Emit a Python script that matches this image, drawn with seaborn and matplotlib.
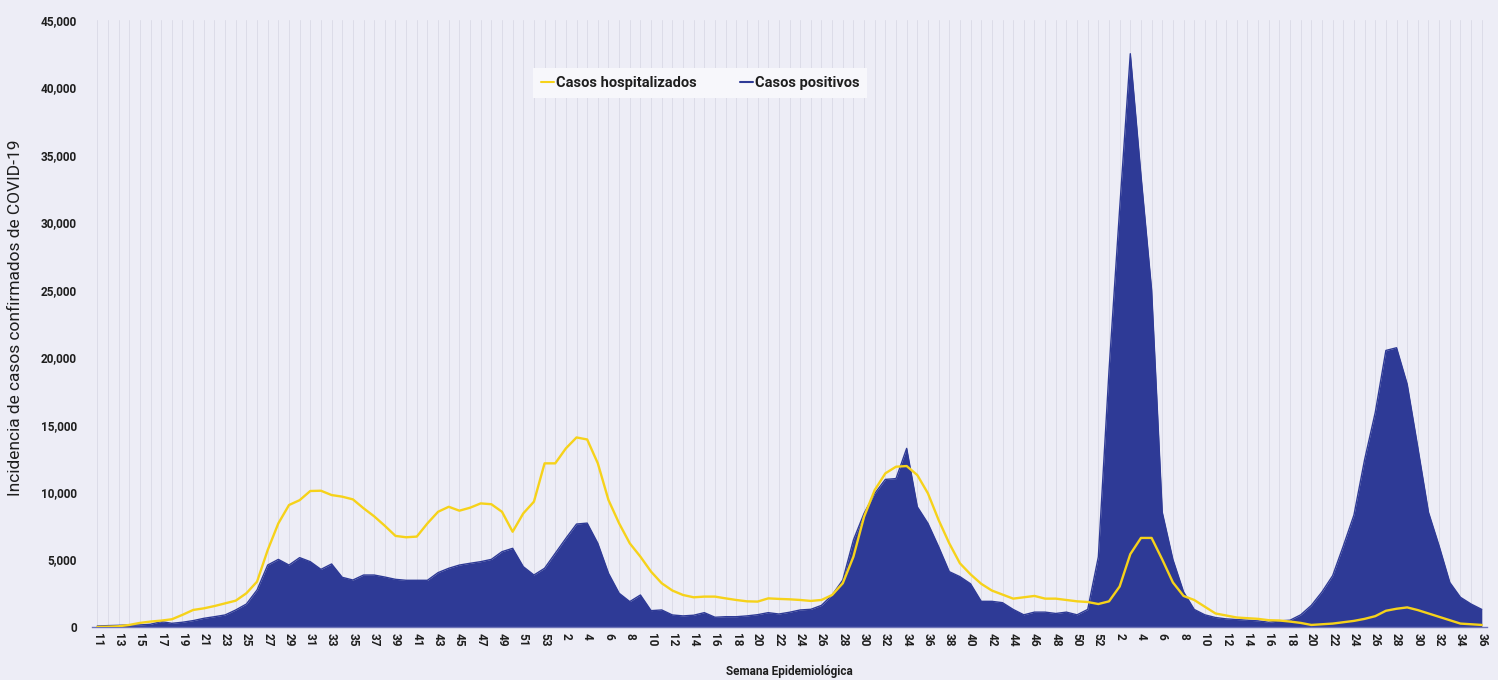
import numpy as np
import pandas as pd
import matplotlib
matplotlib.use("Agg")
import matplotlib.pyplot as plt
import seaborn as sns
from matplotlib.ticker import FuncFormatter

# ---------------- data ----------------
weeks_2020 = list(range(11, 54))
weeks_2021 = list(range(1, 53))
weeks_2022 = list(range(1, 37))
week_labels = [str(w) for w in weeks_2020 + weeks_2021 + weeks_2022]

positivos_2020 = [70, 100, 120, 150, 150, 200, 400, 270, 350, 470, 640, 760, 890, 1260, 1700,
                  2740, 4590, 5010, 4590, 5140, 4840, 4270, 4670, 3680, 3480, 3850, 3850, 3700,
                  3530, 3460, 3460, 3460, 4030, 4350, 4590, 4720, 4840, 5010, 5580, 5830, 4470,
                  3850, 4350]
positivos_2021 = [5460, 6570, 7630, 7700, 6200, 3980, 2500, 1880, 2370, 1210, 1260, 890, 820,
                  870, 1060, 720, 760, 760, 820, 910, 1060, 960, 1090, 1260, 1310, 1600, 2370,
                  3480, 6450, 8420, 9900, 10940, 11000, 13240, 8910, 7680, 5950, 4100, 3730,
                  3200, 1900, 1900, 1800, 1300, 900, 1100, 1100, 1000, 1100, 900, 1300, 5200]
positivos_2022 = [19000, 31000, 42500, 33500, 25000, 8500, 5000, 2600, 1300, 900, 700, 600,
                  550, 500, 450, 350, 450, 500, 900, 1600, 2600, 3800, 6000, 8300, 12400, 15900,
                  20500, 20700, 18000, 13300, 8500, 6000, 3300, 2200, 1700, 1300]

hosp_2020 = [0, 20, 50, 150, 300, 400, 470, 570, 900, 1260, 1380, 1550, 1750, 1950, 2500,
             3360, 5700, 7680, 9040, 9400, 10080, 10100, 9780, 9660, 9460, 8800, 8200, 7500,
             6750, 6650, 6700, 7680, 8540, 8910, 8620, 8840, 9160, 9100, 8540, 7060, 8420,
             9290, 12130]
hosp_2021 = [12130, 13240, 14050, 13900, 12130, 9410, 7680, 6200, 5210, 4100, 3240, 2700,
             2370, 2200, 2250, 2250, 2120, 2000, 1900, 1880, 2120, 2080, 2050, 2000, 1930,
             2000, 2370, 3240, 5210, 8170, 10150, 11390, 11880, 11930, 11260, 9900, 7930,
             6200, 4720, 3900, 3200, 2700, 2400, 2100, 2200, 2300, 2100, 2100, 2000, 1900,
             1850, 1700]
hosp_2022 = [1900, 3000, 5400, 6600, 6600, 5000, 3300, 2300, 2000, 1500, 1000, 850, 700, 650,
             600, 500, 480, 400, 300, 150, 200, 250, 350, 450, 600, 800, 1200, 1350, 1450,
             1250, 1000, 750, 500, 250, 200, 150]

positivos = positivos_2020 + positivos_2021 + positivos_2022
hospitalizados = hosp_2020 + hosp_2021 + hosp_2022

df = pd.DataFrame({
    "idx": np.arange(len(week_labels)),
    "semana": week_labels,
    "positivos": positivos,
    "hospitalizados": hospitalizados,
})

# ---------------- style ----------------
BG = "#EDEDF6"
BLUE = "#2E3A96"
YELLOW = "#F6D21A"
TXT = "#1E1E1E"

sns.set_theme(style="white")
plt.rcParams["font.family"] = ["Roboto", "DejaVu Sans"]

fig = plt.figure(figsize=(14.98, 6.80), dpi=100, facecolor=BG)
ax = fig.add_axes([0.0614, 0.078, 0.9313, 0.8926])
ax.set_facecolor(BG)

# weekly vertical grid
for i in df["idx"]:
    ax.axvline(i, color="#DCDCE8", lw=0.7, zorder=0)

ax.fill_between(df["idx"], 0, df["positivos"], color=BLUE, lw=0, zorder=2)
sns.lineplot(data=df, x="idx", y="positivos", color=BLUE, lw=1.0, ax=ax, zorder=3,
             label="Casos positivos", legend=False)
sns.lineplot(data=df, x="idx", y="hospitalizados", color=YELLOW, lw=1.7, ax=ax, zorder=4,
             label="Casos hospitalizados", legend=False)

ax.set_xlim(-0.5, len(week_labels) - 0.5)
ax.set_ylim(0, 45000)
ax.set_yticks(np.arange(0, 45001, 5000))
ax.yaxis.set_major_formatter(FuncFormatter(lambda v, p: f"{int(v):,}"))

tick_pos = df["idx"][::2]
ax.set_xticks(tick_pos)
ax.set_xticklabels(df["semana"][::2], rotation=-90, fontsize=8.5, fontweight="bold", color=TXT)
for lab in ax.get_yticklabels():
    lab.set_fontsize(8.5)
    lab.set_fontweight("bold")
    lab.set_color(TXT)
ax.tick_params(axis="x", length=0, pad=4)
ax.tick_params(axis="y", length=0, pad=11)

for s in ["top", "right", "left"]:
    ax.spines[s].set_visible(False)
ax.spines["bottom"].set_color("#6E74B8")
ax.spines["bottom"].set_linewidth(1.0)

ax.set_xlabel("Semana Epidemiológica", fontsize=8.5, fontweight="bold", color=TXT)
ax.xaxis.set_label_coords(0.5, -0.074)
ax.xaxis.label.set_verticalalignment("center")
ax.set_ylabel("Incidencia de casos confirmados de COVID-19", fontsize=12.5, color=TXT)
ax.yaxis.set_label_coords(-0.055, 0.51)
ax.yaxis.label.set_verticalalignment("center")

handles, labels = ax.get_legend_handles_labels()
order = [labels.index("Casos hospitalizados"), labels.index("Casos positivos")]
leg = ax.legend([handles[i] for i in order], [labels[i] for i in order],
                loc="center", bbox_to_anchor=(0.436, 0.896), ncol=2, frameon=True,
                fancybox=False, handlelength=0.9, handletextpad=0.1, columnspacing=3.0,
                borderpad=0.55, borderaxespad=0, prop={"weight": "bold", "size": 10.5})
leg.get_frame().set_facecolor("#F7F7FB")
leg.get_frame().set_edgecolor("none")
leg.get_frame().set_alpha(1.0)
for h in leg.get_lines():
    h.set_linewidth(1.5)
for t in leg.get_texts():
    t.set_color(TXT)

fig.savefig("out.png", dpi=100, facecolor=BG)
